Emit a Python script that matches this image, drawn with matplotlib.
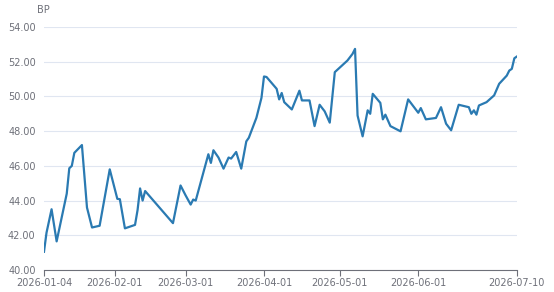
import pandas as pd
import matplotlib.pyplot as plt
import matplotlib.dates as mdates

dates = [
    "2026-01-04", "2026-01-05", "2026-01-07", "2026-01-09", "2026-01-13", "2026-01-14",
    "2026-01-15", "2026-01-16", "2026-01-19", "2026-01-21", "2026-01-23", "2026-01-26",
    "2026-01-30", "2026-02-02", "2026-02-03", "2026-02-05", "2026-02-09", "2026-02-10",
    "2026-02-11", "2026-02-12", "2026-02-13", "2026-02-24", "2026-02-27", "2026-03-01",
    "2026-03-03", "2026-03-04", "2026-03-05", "2026-03-10", "2026-03-11", "2026-03-12",
    "2026-03-14", "2026-03-16", "2026-03-18", "2026-03-19", "2026-03-21", "2026-03-23",
    "2026-03-25", "2026-03-26", "2026-03-29", "2026-03-31", "2026-04-01", "2026-04-02",
    "2026-04-06", "2026-04-07", "2026-04-08", "2026-04-09", "2026-04-12", "2026-04-15",
    "2026-04-16", "2026-04-19", "2026-04-21", "2026-04-23", "2026-04-25", "2026-04-27",
    "2026-04-29", "2026-05-04", "2026-05-06", "2026-05-07", "2026-05-08", "2026-05-10",
    "2026-05-12", "2026-05-13", "2026-05-14", "2026-05-17", "2026-05-18", "2026-05-19",
    "2026-05-21", "2026-05-25", "2026-05-28", "2026-06-01", "2026-06-02", "2026-06-04",
    "2026-06-08", "2026-06-10", "2026-06-12", "2026-06-14", "2026-06-17", "2026-06-21",
    "2026-06-22", "2026-06-23", "2026-06-24", "2026-06-25", "2026-06-28", "2026-07-01",
    "2026-07-03", "2026-07-06", "2026-07-07", "2026-07-08", "2026-07-09", "2026-07-10",
]
values = [
    41.05, 42.15, 43.50, 41.65, 44.40, 45.86,
    46.00, 46.75, 47.20, 43.60, 42.45, 42.55,
    45.80, 44.10, 44.08, 42.40, 42.60, 43.45,
    44.70, 44.00, 44.55, 42.70, 44.87, 44.30,
    43.77, 44.06, 44.00, 46.67, 46.17, 46.90,
    46.48, 45.84, 46.48, 46.42, 46.80, 45.84,
    47.41, 47.62, 48.77, 49.92, 51.15, 51.12,
    50.44, 49.83, 50.20, 49.67, 49.25, 50.33,
    49.77, 49.77, 48.29, 49.52, 49.14, 48.49,
    51.40, 52.07, 52.45, 52.74, 48.90, 47.70,
    49.20, 49.00, 50.15, 49.63, 48.68, 48.95,
    48.29, 47.99, 49.83, 49.06, 49.33, 48.68,
    48.76, 49.38, 48.43, 48.05, 49.52, 49.38,
    49.00, 49.20, 48.95, 49.48, 49.67, 50.06,
    50.73, 51.20, 51.49, 51.59, 52.20, 52.30,
]
tick_dates = ["2026-01-04", "2026-02-01", "2026-03-01", "2026-04-01",
              "2026-05-01", "2026-06-01", "2026-07-10"]
y_ticks = [40, 42, 44, 46, 48, 50, 52, 54]

x = pd.to_datetime(dates)
ticks = pd.to_datetime(tick_dates)

fig = plt.figure(figsize=(5.54, 2.92), dpi=100)
ax = fig.add_axes([0.0794, 0.0753, 0.8536, 0.8322])

ax.plot(x, values, color="#2a7ab2", linewidth=1.6, solid_joinstyle="round")

ax.set_xlim(ticks[0], ticks[-1])
ax.set_ylim(40, 54)
ax.set_yticks(y_ticks)
ax.set_yticklabels([f"{v:.2f}" for v in y_ticks])
ax.set_xticks(ticks)
ax.xaxis.set_major_formatter(mdates.DateFormatter("%Y-%m-%d"))

ax.grid(axis="y", color="#E0E6F1", linewidth=0.8)
ax.set_axisbelow(True)
for side in ["top", "right", "left"]:
    ax.spines[side].set_visible(False)
ax.spines["bottom"].set_color("#6E7079")
ax.spines["bottom"].set_linewidth(0.8)
ax.tick_params(axis="x", colors="#6E7079", labelsize=7, length=4, width=0.8, pad=2)
ax.tick_params(axis="y", colors="#6E7079", labelsize=7, length=0, pad=6)

fig.text(43 / 554, 1 - 10 / 292, "BP", color="#6E7079", fontsize=7,
         ha="center", va="center")

plt.savefig("out.png", dpi=100)
